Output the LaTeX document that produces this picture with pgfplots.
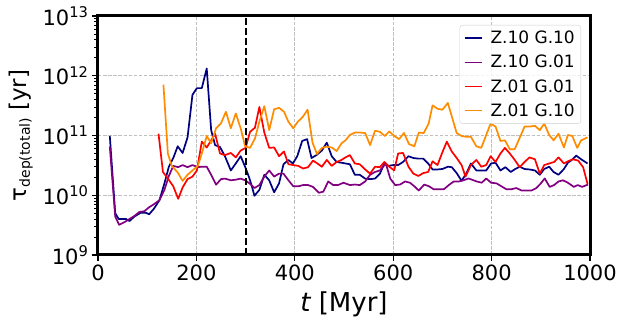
\documentclass[border=0pt]{standalone}
\usepackage{pgfplots}
\pgfplotsset{compat=1.18}
\usepackage{fontspec}
\setmainfont{DejaVu Sans}
\definecolor{cnavy}{RGB}{0,0,128}
\definecolor{cpurple}{RGB}{128,0,128}
\definecolor{cred}{RGB}{255,0,0}
\definecolor{corange}{RGB}{255,140,0}
\begin{document}
\begin{tikzpicture}
\begin{axis}[
  scale only axis, width=492pt, height=239pt,
  xmin=0, xmax=1000, ymin=1e9, ymax=1e13, ymode=log,
  xtick={0,200,400,600,800,1000},
  xticklabels={0,200,400,600,800,1000},
  ytick={1e9,1e10,1e11,1e12,1e13},
  yticklabels={10\textsuperscript{9},10\textsuperscript{10},10\textsuperscript{11},10\textsuperscript{12},10\textsuperscript{13}},
  tick pos=left, tick align=outside,
  major tick length=6pt, minor tick length=3.5pt,
  major tick style={line width=1.2pt, black},
  minor tick style={line width=0.9pt, black},
  axis line style={line width=3pt},
  tick label style={font=\fontsize{21}{24}\selectfont},
  grid=major,
  major grid style={black!25, line width=0.9pt, dash pattern=on 3.5pt off 1.6pt},
  xlabel={{\itshape t} [Myr]},
  xlabel style={font=\fontsize{26}{30}\selectfont, at={(axis description cs:0.5,-0.155)}, anchor=north, inner sep=0pt},
  ylabel={τ\raisebox{-0.15em}{\fontsize{14}{14}\selectfont dep(total)} [yr]},
  ylabel style={font=\fontsize{23}{27}\selectfont, at={(axis description cs:-0.1321,0.5)}, anchor=south, inner sep=0pt},
  legend style={at={(0.9817,0.9623)}, anchor=north east, draw=black!20, rounded corners=3pt,
    fill=white, fill opacity=0.8, text opacity=1, draw opacity=1,
    font=\fontsize{17}{19}\selectfont, inner sep=4pt, row sep=6pt, column sep=6pt},
  legend cell align=left,
  every axis plot/.append style={line width=1.7pt, line join=round},
]
\addplot[cnavy] coordinates {
(24,9.8e10) (35,5.0e9) (42,4.0e9) (50,4.0e9) (57,4.0e9) (64,3.7e9) (74,4.4e9) (87,5.1e9) (97,5.1e9) (104,4.8e9)
(114,6.0e9) (125,8.3e9) (135,1.58e10) (144,3.0e10) (153,4.2e10) (162,6.6e10) (172,5.1e10) (182,9.3e10) (192,4.8e11) (201,6.2e11)
(211,6.2e11) (221,1.32e12) (230,1.23e11) (238,6.9e10) (248,6.4e10) (258,4.5e10) (270,2.6e10) (280,3.4e10) (290,4.5e10) (299,3.0e10)
(307,2.0e10) (312,1.48e10) (318,9.8e9) (328,1.23e10) (338,2.2e10) (348,1.78e10) (358,1.12e10) (368,1.58e10) (377,3.3e10) (387,3.9e10)
(396,3.4e10) (405,4.5e10) (415,8.1e10) (425,8.7e10) (434,4.2e10) (444,4.7e10) (455,5.6e10) (465,7.6e10) (475,4.5e10) (485,3.6e10)
(495,3.5e10) (512,3.3e10) (522,2.2e10) (532,2.2e10) (543,1.9e10) (553,1.86e10) (563,1.9e10) (573,2.3e10) (582,3.4e10) (590,3.1e10)
(600,3.2e10) (610,3.2e10) (620,3.6e10) (631,4.5e10) (641,4.2e10) (651,4.1e10) (661,4.1e10) (671,3.4e10) (680,2.7e10) (690,2.7e10)
(700,2.75e10) (711,3.0e10) (719,2.95e10) (729,2.35e10) (739,1.74e10) (749,2.35e10) (758,3.4e10) (769,2.6e10) (779,2.6e10) (789,2.6e10)
(799,3.4e10) (808,3.5e10) (818,2.6e10) (828,2.95e10) (839,2.45e10) (848,2.75e10) (857,3.0e10) (867,2.75e10) (877,2.7e10) (888,2.6e10)
(898,2.2e10) (907,2.75e10) (917,3.0e10) (926,2.45e10) (936,2.2e10) (947,2.75e10) (955,3.5e10) (963,3.9e10) (972,4.6e10) (982,4.0e10)
(995,3.4e10)
};
\addlegendentry{Z.10 G.10}
\addplot[cpurple] coordinates {
(24,6.5e10) (35,4.4e9) (43,3.2e9) (54,3.55e9) (64,4.0e9) (74,4.5e9) (84,5.25e9) (94,5.4e9) (104,6.3e9) (114,7.1e9)
(125,8.3e9) (135,1.23e10) (144,2.1e10) (153,3.1e10) (163,2.95e10) (172,3.2e10) (182,2.95e10) (192,3.2e10) (203,2.95e10) (211,3.0e10)
(221,3.0e10) (230,2.2e10) (240,1.5e10) (250,1.86e10) (258,1.9e10) (270,1.78e10) (280,1.82e10) (290,1.9e10) (299,1.78e10) (308,1.58e10)
(318,1.32e10) (328,1.48e10) (338,2.05e10) (348,2.6e10) (358,2.05e10) (368,2.3e10) (377,2.3e10) (387,1.78e10) (397,1.41e10) (407,1.41e10)
(417,1.48e10) (427,1.48e10) (437,1.38e10) (449,1.1e10) (458,1.15e10) (468,1.7e10) (478,1.48e10) (488,1.48e10) (499,1.62e10) (512,1.48e10)
(522,1.51e10) (532,1.48e10) (543,1.7e10) (553,2.2e10) (563,2.45e10) (573,2.6e10) (585,3.4e10) (594,1.9e10) (604,1.48e10) (614,1.51e10)
(624,1.7e10) (634,1.62e10) (643,1.41e10) (652,1.2e10) (663,1.51e10) (673,1.41e10) (682,1.26e10) (692,1.26e10) (703,1.26e10) (713,1.48e10)
(723,1.7e10) (733,1.7e10) (743,1.78e10) (753,1.91e10) (760,1.82e10) (770,1.7e10) (780,1.62e10) (789,1.91e10) (799,1.62e10) (810,1.58e10)
(820,1.41e10) (830,1.26e10) (840,1.26e10) (850,1.32e10) (861,1.2e10) (871,1.2e10) (881,1.2e10) (891,1.32e10) (900,1.58e10) (908,1.91e10)
(918,1.38e10) (927,1.48e10) (936,1.7e10) (945,1.78e10) (955,1.62e10) (967,1.38e10) (975,1.48e10) (984,1.38e10) (996,1.51e10)
};
\addlegendentry{Z.10 G.01}
\addplot[cred] coordinates {
(123,1.07e11) (132,2.45e10) (142,1.91e10) (153,1.41e10) (163,8.7e9) (172,1.35e10) (182,1.86e10) (192,2.05e10) (201,2.6e10) (211,7.9e10)
(221,6.3e10) (230,8.3e10) (238,1.07e11) (248,5.0e10) (258,4.7e10) (270,5.1e10) (280,4.3e10) (290,5.6e10) (300,6.2e10) (309,1.15e11)
(319,1.35e11) (328,3.0e11) (338,1.12e11) (348,6.2e10) (358,6.3e10) (368,4.5e10) (378,5.4e10) (387,3.3e10) (397,3.2e10) (407,3.1e10)
(417,2.8e10) (427,2.95e10) (437,3.8e10) (446,3.4e10) (455,3.0e10) (465,3.9e10) (475,3.1e10) (485,3.6e10) (495,3.9e10) (503,4.3e10)
(512,4.7e10) (522,3.4e10) (532,3.3e10) (543,2.7e10) (553,2.3e10) (563,3.0e10) (573,2.95e10) (582,3.6e10) (592,3.0e10) (602,2.6e10)
(610,5.0e10) (620,5.1e10) (631,3.0e10) (641,2.3e10) (651,2.1e10) (661,2.35e10) (671,2.45e10) (680,3.7e10) (690,3.2e10) (699,5.0e10)
(709,7.9e10) (719,5.4e10) (729,4.2e10) (739,3.2e10) (747,2.05e10) (758,3.2e10) (769,3.9e10) (779,3.0e10) (789,3.2e10) (798,4.5e10)
(808,3.6e10) (818,5.0e10) (827,6.2e10) (837,5.0e10) (847,3.9e10) (857,2.95e10) (867,3.6e10) (877,4.3e10) (888,4.0e10) (898,2.3e10)
(907,3.2e10) (917,3.4e10) (927,3.6e10) (936,4.3e10) (947,3.4e10) (955,3.7e10) (965,4.0e10) (976,3.8e10) (986,2.95e10) (995,1.55e10)
};
\addlegendentry{Z.01 G.01}
\addplot[corange] coordinates {
(133,7.1e11) (142,5.0e10) (150,3.1e10) (162,2.4e10) (172,1.74e10) (182,2.2e10) (192,2.6e10) (203,3.1e10) (211,5.0e10) (221,9.8e10)
(230,7.4e10) (240,1.32e11) (250,1.6e11) (260,2.5e11) (270,1.32e11) (280,2.34e11) (290,1.32e11) (299,6.6e10) (309,6.2e10) (319,8.9e10)
(328,1.7e11) (338,3.1e11) (348,1.23e11) (358,2.75e11) (368,2.9e11) (378,2.5e11) (387,1.7e11) (397,1.32e11) (406,1.7e11) (416,2.04e11)
(426,2.7e11) (436,7.6e10) (445,4.9e10) (455,6.2e10) (465,6.5e10) (475,6.3e10) (485,5.5e10) (495,7.4e10) (503,8.3e10) (512,1.02e11)
(522,1.12e11) (532,1.12e11) (543,1.1e11) (553,6.9e10) (563,1.2e11) (573,1.15e11) (583,9.8e10) (592,1.17e11) (602,9.8e10) (612,8.7e10)
(622,1.1e11) (632,7.2e10) (643,6.6e10) (652,1.12e11) (662,1.1e11) (672,1.58e11) (680,3.2e11) (690,2.8e11) (700,2.7e11) (711,3.5e11)
(719,2.1e11) (729,1.1e11) (739,9.8e10) (749,9.5e10) (758,9.5e10) (769,6.6e10) (779,6.2e10) (789,1.02e11) (798,1.58e11) (808,1.41e11)
(818,8.1e10) (827,8.3e10) (837,5.9e10) (847,5.9e10) (857,9.1e10) (867,1.41e11) (877,1.41e11) (888,1.45e11) (898,1.23e11) (907,1.58e11)
(917,1.02e11) (926,8.3e10) (936,1.07e11) (947,6.3e10) (955,1.02e11) (964,9.8e10) (974,6.2e10) (982,8.3e10) (995,9.3e10)
};
\addlegendentry{Z.01 G.10}
% boundary marker at t = 300 Myr
\addplot[black, line width=1.8pt, dash pattern=on 7pt off 3pt, forget plot] coordinates {(300,1e9) (300,1e13)};
\end{axis}
\pgfresetboundingbox
\path[use as bounding box] (-98pt,-65pt) rectangle (522pt,255pt);
\end{tikzpicture}
\end{document}
